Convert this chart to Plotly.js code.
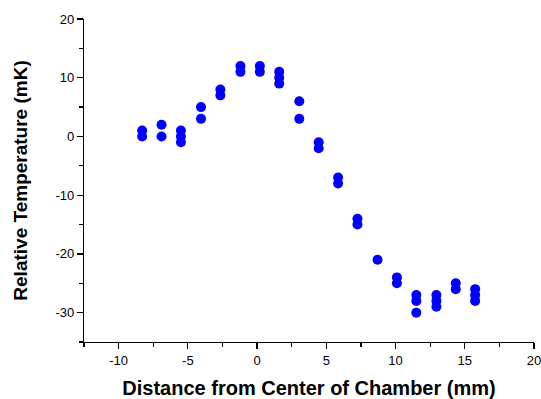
<!DOCTYPE html>
<html>
<head>
<meta charset="utf-8">
<script src="https://cdn.plot.ly/plotly-3.0.1.min.js"></script>
<style>html,body{margin:0;padding:0;background:#fff}#chart{width:541px;height:399px}</style>
</head>
<body>
<div id="chart"></div>
<script>
// Distance from center of chamber (mm), one entry per measurement
const distance = [
  -8.3, -8.3,
  -6.9, -6.9,
  -5.5, -5.5, -5.5,
  -4.05, -4.05,
  -2.65, -2.65,
  -1.2, -1.2,
  0.2, 0.2,
  1.6, 1.6, 1.6,
  3.05, 3.05,
  4.45, 4.45,
  5.85, 5.85,
  7.25, 7.25,
  8.7,
  10.1, 10.1,
  11.5, 11.5, 11.5,
  12.95, 12.95, 12.95,
  14.35, 14.35,
  15.75, 15.75, 15.75
];
// Relative temperature (mK)
const temperature = [
  0, 1,
  0, 2,
  -1, 0, 1,
  3, 5,
  7, 8,
  11, 12,
  11, 12,
  9, 10, 11,
  3, 6,
  -2, -1,
  -8, -7,
  -15, -14,
  -21,
  -25, -24,
  -30, -28, -27,
  -29, -28, -27,
  -26, -25,
  -28, -27, -26
];
const xTicks = [-10, -5, 0, 5, 10, 15, 20];
const yTicks = [-30, -20, -10, 0, 10, 20];

const font = {family: 'Liberation Sans, Arial, sans-serif', color: '#000'};
const axisCommon = {
  showline: true, linecolor: '#000', linewidth: 1.2,
  ticks: 'outside', ticklen: 6, tickwidth: 1.2, tickcolor: '#000',
  showgrid: false, zeroline: false, mirror: false,
  ticklabeloverflow: 'allow',
  tickfont: Object.assign({size: 13}, font),
  minor: {ticks: 'outside', ticklen: 3.5, tickwidth: 1.2, tickcolor: '#000', showgrid: false}
};

Plotly.newPlot('chart', [{
  x: distance, y: temperature, type: 'scatter', mode: 'markers',
  marker: {color: '#0000FF', size: 10, line: {width: 0}}
}], {
  width: 541, height: 399,
  margin: {l: 84, r: 7, t: 19, b: 57},
  paper_bgcolor: '#fff', plot_bgcolor: '#fff',
  showlegend: false,
  xaxis: Object.assign({}, axisCommon, {
    range: [-12.5, 20], tickvals: xTicks, ticktext: xTicks.map(String),
    minor: Object.assign({}, axisCommon.minor, {dtick: 2.5, tick0: 0}),
    title: {text: '<b>Distance from Center of Chamber (mm)</b>', font: Object.assign({size: 20}, font), standoff: 14}
  }),
  yaxis: Object.assign({}, axisCommon, {
    range: [-35, 20], tickvals: yTicks, ticktext: yTicks.map(String),
    minor: Object.assign({}, axisCommon.minor, {dtick: 5, tick0: 0}),
    title: {text: '<b>Relative Temperature (mK)</b>', font: Object.assign({size: 19}, font), standoff: 22}
  })
}, {staticPlot: true});
</script>
</body>
</html>
